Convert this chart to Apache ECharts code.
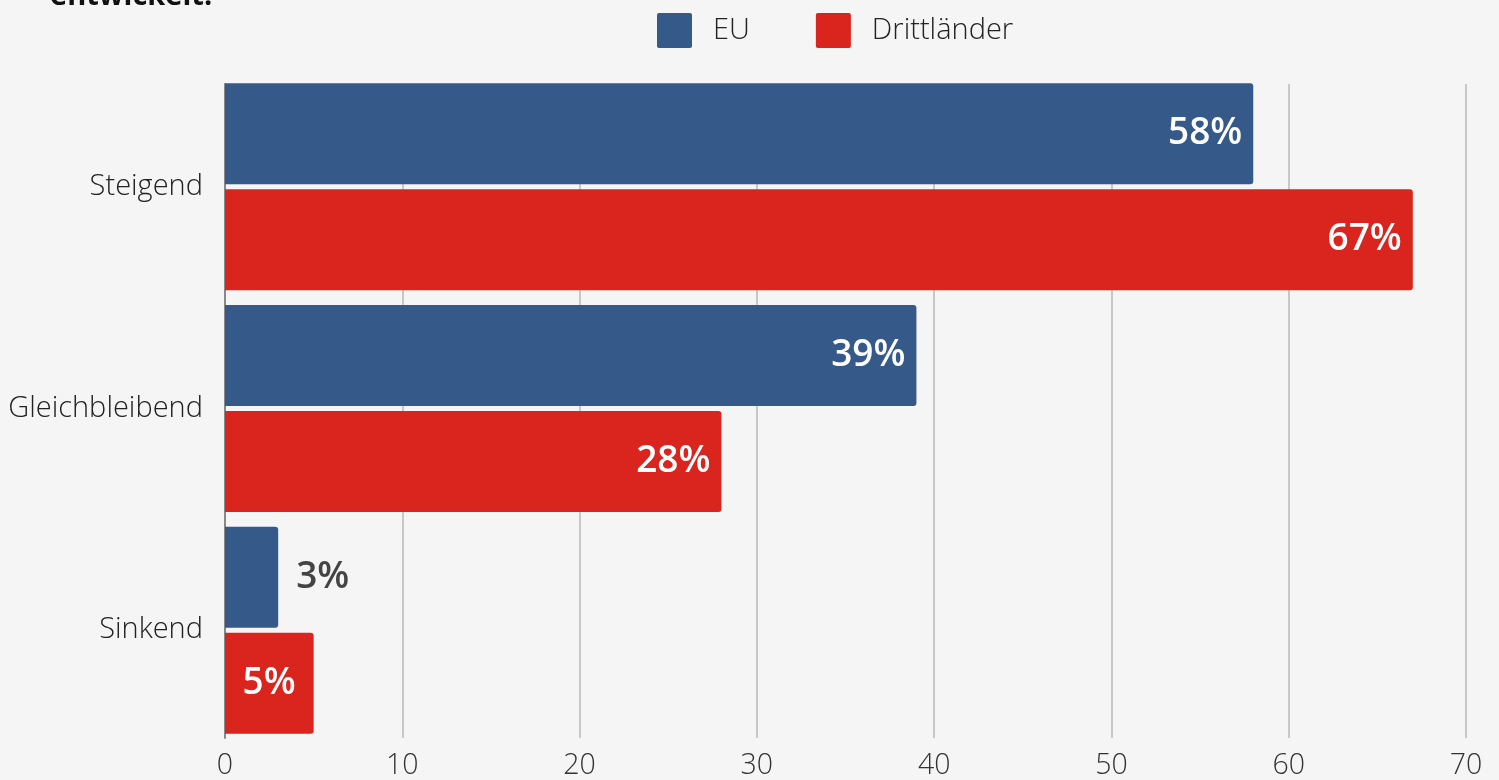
<!DOCTYPE html>
<html>
<head>
<meta charset="utf-8">
<script src="https://cdn.jsdelivr.net/npm/echarts@6/dist/echarts.min.js"></script>
<style>
  html, body { margin: 0; padding: 0; background: #f5f5f5; }
  #chart { width: 1499px; height: 780px; }
</style>
</head>
<body>
<div id="chart"></div>
<script>
// Antwortkategorien (von oben nach unten)
const categories = ['Steigend', 'Gleichbleibend', 'Sinkend'];
// Anteile in Prozent
const euValues = [58, 39, 3];
const drittValues = [67, 28, 5];
const seriesNames = ['EU', 'Drittländer'];
const xTicks = [0, 10, 20, 30, 40, 50, 60, 70];

const FONT = '"Open Sans", "Noto Sans", sans-serif';
const BLUE = '#355a89';
const RED = '#d9251d';

// Kurze Balken bekommen ihr Label außerhalb
function labelFor(v) {
  const inside = v >= 5;
  return {
    show: true,
    position: inside ? 'insideRight' : 'right',
    distance: inside ? (v < 10 ? 18 : 11) : 18,
    formatter: '{c}%',
    color: inside ? '#ffffff' : '#444444',
    fontFamily: FONT,
    fontWeight: 600,
    fontSize: 37
  };
}

function makeSeries(name, values, color) {
  return {
    name: name,
    type: 'bar',
    xAxisIndex: 0,
    yAxisIndex: 0,
    barWidth: 101,
    barGap: '5%',
    z: 3,
    itemStyle: { color: color, borderRadius: [0, 3, 3, 0] },
    data: values.map(v => ({ value: v, label: labelFor(v) })),
    animation: false
  };
}

const xMin = xTicks[0];
const xMax = xTicks[xTicks.length - 1];

const chart = echarts.init(document.getElementById('chart'), null, { renderer: 'canvas' });
chart.setOption({
  backgroundColor: '#f5f5f5',
  textStyle: { fontFamily: FONT },
  graphic: [{
    type: 'text',
    left: 50,
    top: -18,
    style: {
      text: 'entwickelt:',
      fill: '#111111',
      font: 'bold 29px ' + FONT
    }
  }],
  legend: {
    top: 8,
    left: 652,
    itemWidth: 35,
    itemHeight: 35,
    itemGap: 66,
    icon: 'path://M2,0 L33,0 Q35,0 35,2 L35,33 Q35,35 33,35 L2,35 Q0,35 0,33 L0,2 Q0,0 2,0 Z',
    textStyle: { fontSize: 29, fontWeight: 300, color: '#222222', fontFamily: FONT, padding: [0, 0, 0, 16] },
    data: seriesNames
  },
  // Gitter 0: Balken und Beschriftungen; Gitter 1: Rasterlinien, die genau an den Balken enden
  grid: [
    { left: 225, right: 33, top: 76, bottom: 34, containLabel: false },
    { left: 225, right: 33, top: 84, bottom: 42, containLabel: false }
  ],
  xAxis: [{
    type: 'value',
    gridIndex: 0,
    min: xMin,
    max: xMax,
    interval: 10,
    axisLine: { show: false },
    axisTick: { show: false },
    splitLine: { show: false },
    axisLabel: { fontSize: 28.5, fontWeight: 300, color: '#333333', fontFamily: FONT, margin: 10 }
  }, {
    type: 'value',
    gridIndex: 1,
    min: xMin,
    max: xMax,
    interval: 10,
    axisLine: { show: false },
    axisTick: { show: false },
    axisLabel: { show: false },
    splitLine: { lineStyle: { color: '#c8c8c8', width: 2 } }
  }],
  yAxis: [{
    type: 'category',
    gridIndex: 0,
    inverse: true,
    data: categories,
    axisLine: { show: false },
    axisTick: { show: false },
    axisLabel: { fontSize: 29, fontWeight: 300, color: '#222222', fontFamily: FONT, margin: 22 }
  }, {
    type: 'category',
    gridIndex: 1,
    inverse: true,
    data: categories,
    axisLine: { show: true, lineStyle: { color: '#888888', width: 2 } },
    axisTick: { show: false },
    axisLabel: { show: false }
  }],
  series: [
    makeSeries(seriesNames[0], euValues, BLUE),
    makeSeries(seriesNames[1], drittValues, RED)
  ]
});
</script>
</body>
</html>
